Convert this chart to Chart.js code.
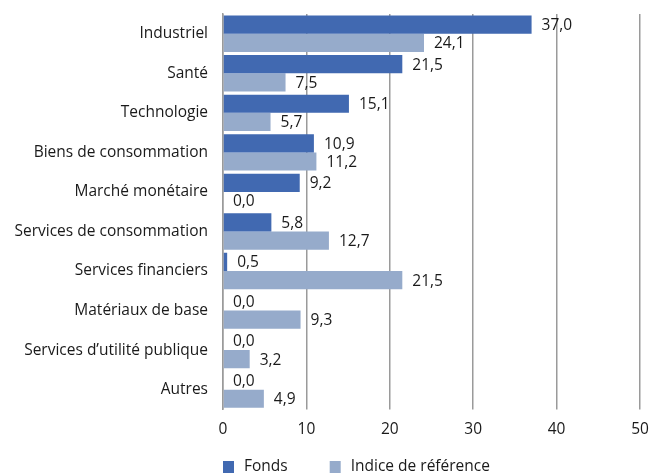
<!DOCTYPE html>
<html lang="fr">
<head>
<meta charset="UTF-8">
<title>Répartition sectorielle</title>
<script src="https://cdn.jsdelivr.net/npm/chart.js@4"></script>
<style>
    html, body { margin: 0; padding: 0; background: #fff; }
    #wrap { width: 652px; height: 474px; position: relative; }
</style>
</head>
<body>
<div id="wrap"><canvas id="chart"></canvas></div>
<script>
const categories = [
    'Industriel', 'Santé', 'Technologie', 'Biens de consommation', 'Marché monétaire',
    'Services de consommation', 'Services financiers', 'Matériaux de base',
    'Services d\u2019utilité publique', 'Autres'
];
const fonds = [37.0, 21.5, 15.1, 10.9, 9.2, 5.8, 0.5, 0.0, 0.0, 0.0];
const indice = [24.1, 7.5, 5.7, 11.2, 0.0, 12.7, 21.5, 9.3, 3.2, 4.9];
const xTicks = [0, 10, 20, 30, 40, 50];

const FONT = '"Open Sans", "Noto Sans", sans-serif';
const COL_FONDS = '#4169b1';
const COL_INDICE = '#96abcb';

function fmt(v) {
    return v.toFixed(1).replace('.', ',');
}

// valeurs à droite des barres
const valueLabels = {
    id: 'valueLabels',
    afterDatasetsDraw(chart) {
        const ctx = chart.ctx;
        ctx.save();
        ctx.font = '15.5px ' + FONT;
        ctx.fillStyle = '#1a1a1a';
        ctx.textBaseline = 'middle';
        ctx.textAlign = 'left';
        chart.data.datasets.forEach((ds, i) => {
            chart.getDatasetMeta(i).data.forEach((bar, j) => {
                ctx.fillText(fmt(ds.data[j]), bar.x + 10, bar.y + 1);
            });
        });
        ctx.restore();
    }
};

// légende en bas, alignée sur l'axe
const bottomLegend = {
    id: 'bottomLegend',
    afterDraw(chart) {
        const ctx = chart.ctx;
        const left = chart.chartArea.left;
        const y = 467;
        ctx.save();
        ctx.font = '15.5px ' + FONT;
        ctx.textBaseline = 'middle';
        let x = left;
        chart.data.datasets.forEach(ds => {
            ctx.fillStyle = ds.backgroundColor;
            ctx.fillRect(x, y - 6, 11, 12);
            ctx.fillStyle = '#1a1a1a';
            ctx.fillText(ds.label, x + 21, y);
            x += 21 + ctx.measureText(ds.label).width + 42;
        });
        ctx.restore();
    }
};

new Chart(document.getElementById('chart'), {
    type: 'bar',
    data: {
        labels: categories,
        datasets: [
            { label: 'Fonds', data: fonds, backgroundColor: COL_FONDS },
            { label: 'Indice de référence', data: indice, backgroundColor: COL_INDICE }
        ]
    },
    options: {
        indexAxis: 'y',
        responsive: true,
        maintainAspectRatio: false,
        animation: false,
        layout: { padding: { top: 14, right: 12, bottom: 24, left: 0 } },
        datasets: { bar: { categoryPercentage: 0.92, barPercentage: 1.0 } },
        plugins: {
            legend: { display: false },
            tooltip: { enabled: false }
        },
        scales: {
            x: {
                min: 0,
                max: 50,
                afterBuildTicks(scale) { scale.ticks = xTicks.map(v => ({ value: v })); },
                afterFit(scale) { scale.paddingLeft = 0; scale.paddingRight = 0; },
                grid: { color: '#9a9a9a', lineWidth: 1.5, drawTicks: true, tickLength: 0 },
                border: { display: false },
                ticks: { color: '#1a1a1a', font: { family: FONT, size: 15.5 }, padding: 11 }
            },
            y: {
                afterFit(scale) { scale.width = 223; scale.paddingTop = 0; scale.paddingBottom = 0; },
                grid: { display: false, drawTicks: false },
                border: { display: true, color: '#9a9a9a', width: 1.5 },
                ticks: { color: '#1a1a1a', font: { family: FONT, size: 15.5 }, padding: 15 }
            }
        }
    },
    plugins: [valueLabels, bottomLegend]
});
</script>
</body>
</html>
